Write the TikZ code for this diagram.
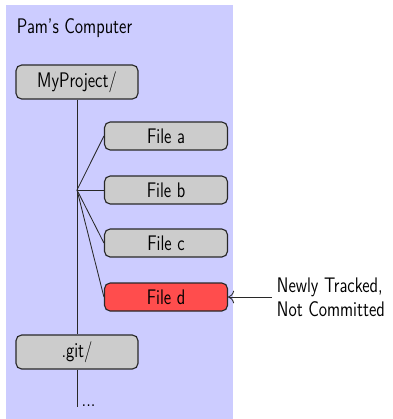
\documentclass[tikz,border=0pt]{standalone}
\usepackage{xcolor}
\usepackage{tikz}
\usetikzlibrary{arrows.meta, positioning, backgrounds}
\definecolor{machinecolor}{RGB}{204,204,255}
\definecolor{entrycolor}{RGB}{204,204,204}
\definecolor{trackedcolor}{RGB}{255,77,77}
\definecolor{edgecolor}{RGB}{40,40,40}

\begin{document}
\begin{tikzpicture}[
    font=\sffamily\large,
    tall/.style={yscale=1.25},
    folder/.style={tall, draw=edgecolor, thick, fill=entrycolor, minimum width=3.05cm, minimum height=0.68cm, rounded corners=4pt},
    file/.style={tall, draw=edgecolor, thick, fill=entrycolor, minimum width=3.075cm, minimum height=0.56cm, rounded corners=4pt},
    newfile/.style={file, fill=trackedcolor},
    branch/.style={edgecolor, semithick},
    pointer/.style={-{To[length=1.5mm]}, edgecolor, semithick},
    note/.style={tall, align=left, anchor=west, font=\sffamily\fontsize{12}{13.6}\selectfont}
]
    \useasboundingbox (0,0) rectangle (9.8,-10.475);
    % Machine
    \fill[machinecolor] (0.15,-0.125) rectangle (5.825,-10.475);
    \node[tall, anchor=base west] (machine) at (0.3,-0.83) {Pam's Computer};

    % Folders
    \node[folder] (project) at (1.925,-2.05) {MyProject/};
    \node[folder] (git) at (1.925,-8.8) {.git/};
    \coordinate (fork) at (1.925,-4.75);
    \coordinate (more) at (1.925,-10.17);
    \node[tall, anchor=base west, inner sep=1pt] (dots) at (2.0,-10.17) {...};

    % Files
    \node[file] (filea) at (4.15,-3.4) {File a};
    \node[file] (fileb) at (4.15,-4.75) {File b};
    \node[file] (filec) at (4.15,-6.075) {File c};
    \node[newfile] (filed) at (4.15,-7.425) {File d};

    % Tree
    \draw[branch] (project) -- (git);
    \draw[branch] (git) -- (more);
    \foreach \f in {filea, fileb, filec, filed}
        \draw[branch] (fork) -- (\f.west);

    % Note
    \node[note] (status) at (6.8,-7.425) {Newly Tracked,\\ Not Committed};
    \draw[pointer] (status.west) -- (filed.east);
\end{tikzpicture}
\end{document}
